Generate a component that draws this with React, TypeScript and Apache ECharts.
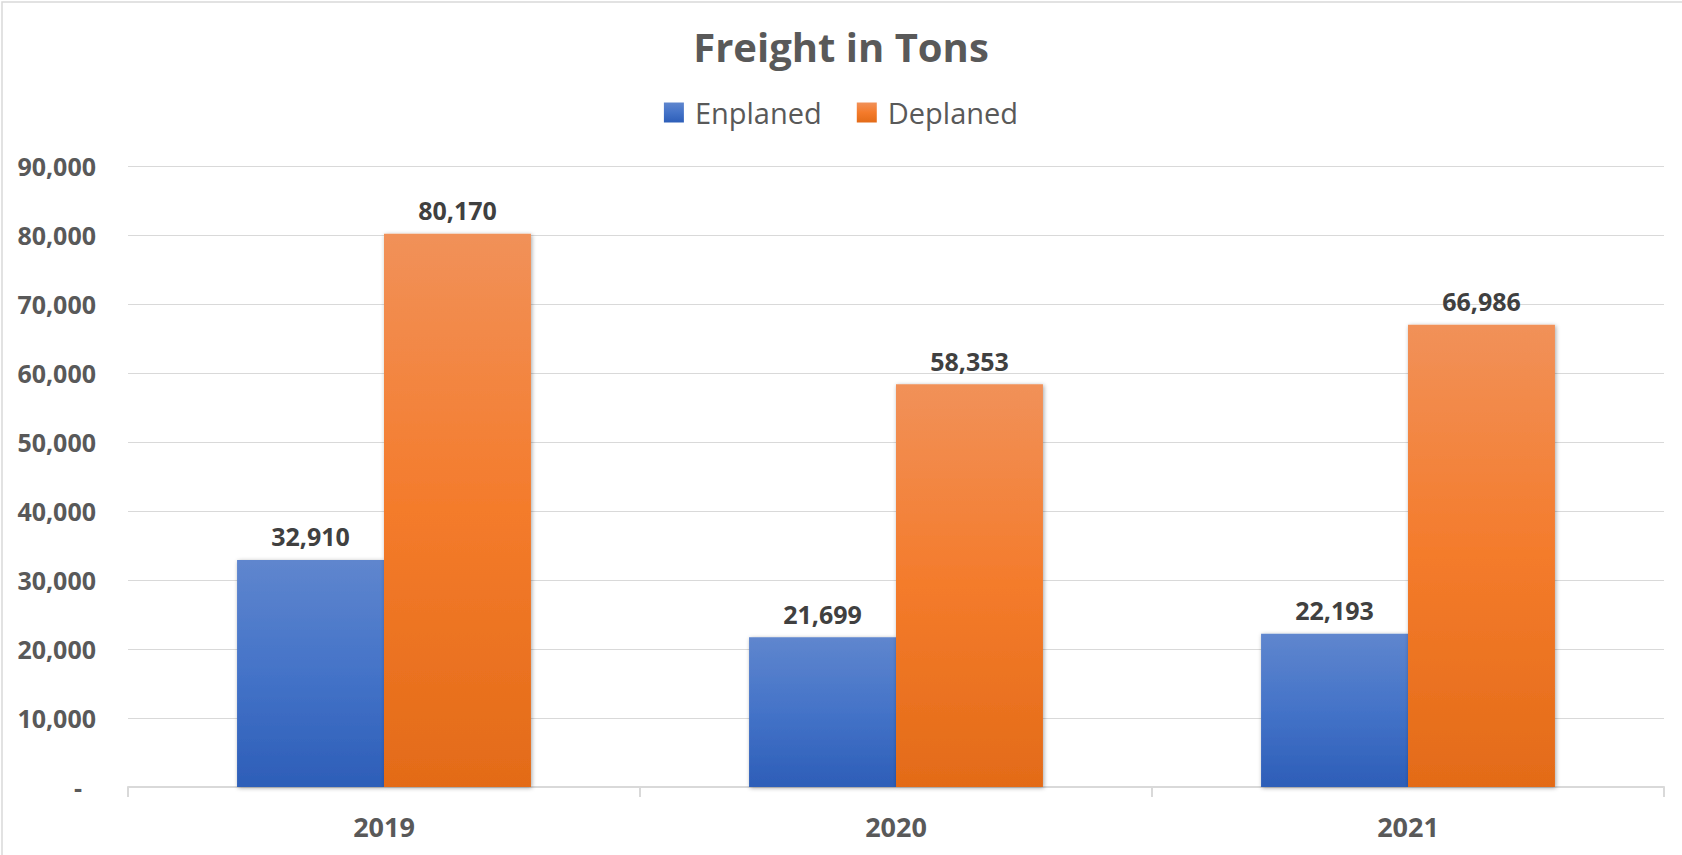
import React, { useEffect, useRef } from "react";
import * as echarts from "echarts";

const categories = ["2019", "2020", "2021"];
const enplaned = [32910, 21699, 22193];
const deplaned = [80170, 58353, 66986];
const seriesNames = ["Enplaned", "Deplaned"];
const yMax = 90000;
const yInterval = 10000;

const FONT = "'Open Sans', 'Noto Sans', sans-serif";

export default function App() {
  const ref = useRef<HTMLDivElement>(null);
  useEffect(() => {
    document.body.style.margin = "0";
    const chart = echarts.init(ref.current!, null, { renderer: "svg" });
    const blue = new echarts.graphic.LinearGradient(0, 0, 0, 1, [
      { offset: 0, color: "#5F86CE" },
      { offset: 0.5, color: "#4473C8" },
      { offset: 1, color: "#2D5EB8" },
    ]);
    const orange = new echarts.graphic.LinearGradient(0, 0, 0, 1, [
      { offset: 0, color: "#F19159" },
      { offset: 0.5, color: "#F47B2B" },
      { offset: 1, color: "#E36B18" },
    ]);
    const fmt = (v: number) => v.toLocaleString("en-US");
    const labelStyle = {
      show: true,
      position: "top",
      distance: 11,
      fontFamily: FONT,
      fontWeight: "bold",
      fontSize: 25,
      color: "#404040",
      formatter: (p: any) => fmt(p.value),
    };
    const shadow = {
      shadowColor: "rgba(0,0,0,0.35)",
      shadowBlur: 4,
      shadowOffsetX: 1,
      shadowOffsetY: 1,
    };
    chart.setOption({
      animation: false,
      backgroundColor: "#ffffff",
      graphic: [
        {
          type: "rect",
          shape: { x: 2, y: 2, width: 1700, height: 900 },
          style: { fill: "none", stroke: "#d9d9d9", lineWidth: 1.5 },
          silent: true,
        },
      ],
      title: {
        text: "Freight in Tons",
        left: "center",
        top: 21,
        textStyle: {
          fontFamily: FONT,
          fontWeight: "bold",
          fontSize: 40,
          color: "#595959",
        },
      },
      legend: {
        data: seriesNames,
        top: 93,
        left: "center",
        itemWidth: 20,
        itemHeight: 20,
        itemGap: 35,
        icon: "rect",
        textStyle: {
          fontFamily: FONT,
          fontSize: 29,
          color: "#595959",
          padding: [0, 0, 0, 6],
        },
      },
      grid: { left: 128, right: 18, top: 166, bottom: 68, containLabel: false },
      xAxis: {
        type: "category",
        data: categories,
        axisLine: { show: true, lineStyle: { color: "#d9d9d9", width: 2 } },
        axisTick: { show: true, length: 10, lineStyle: { color: "#d9d9d9", width: 2 } },
        axisLabel: {
          margin: 26,
          fontFamily: FONT,
          fontWeight: "bold",
          fontSize: 27,
          color: "#595959",
        },
      },
      yAxis: {
        type: "value",
        min: 0,
        max: yMax,
        interval: yInterval,
        axisLine: { show: false },
        axisTick: { show: false },
        splitLine: { lineStyle: { color: "#d9d9d9", width: 1 } },
        axisLabel: {
          margin: 32,
          fontFamily: FONT,
          fontWeight: "bold",
          fontSize: 25,
          color: "#595959",
          formatter: (v: number) => (v === 0 ? "{z|-}" : fmt(v)),
          rich: {
            z: {
              fontFamily: FONT,
              fontWeight: "bold",
              fontSize: 25,
              color: "#595959",
              padding: [0, 14, 0, 0],
            },
          },
        },
      },
      series: [
        {
          name: seriesNames[0],
          type: "bar",
          data: enplaned,
          barGap: "0%",
          barCategoryGap: "42.6%",
          itemStyle: { color: blue, ...shadow },
          label: labelStyle,
        },
        {
          name: seriesNames[1],
          type: "bar",
          data: deplaned,
          barGap: "0%",
          barCategoryGap: "42.6%",
          itemStyle: { color: orange, ...shadow },
          label: labelStyle,
        },
      ],
    });
    return () => chart.dispose();
  }, []);
  return <div ref={ref} style={{ width: 1682, height: 855 }} />;
}
